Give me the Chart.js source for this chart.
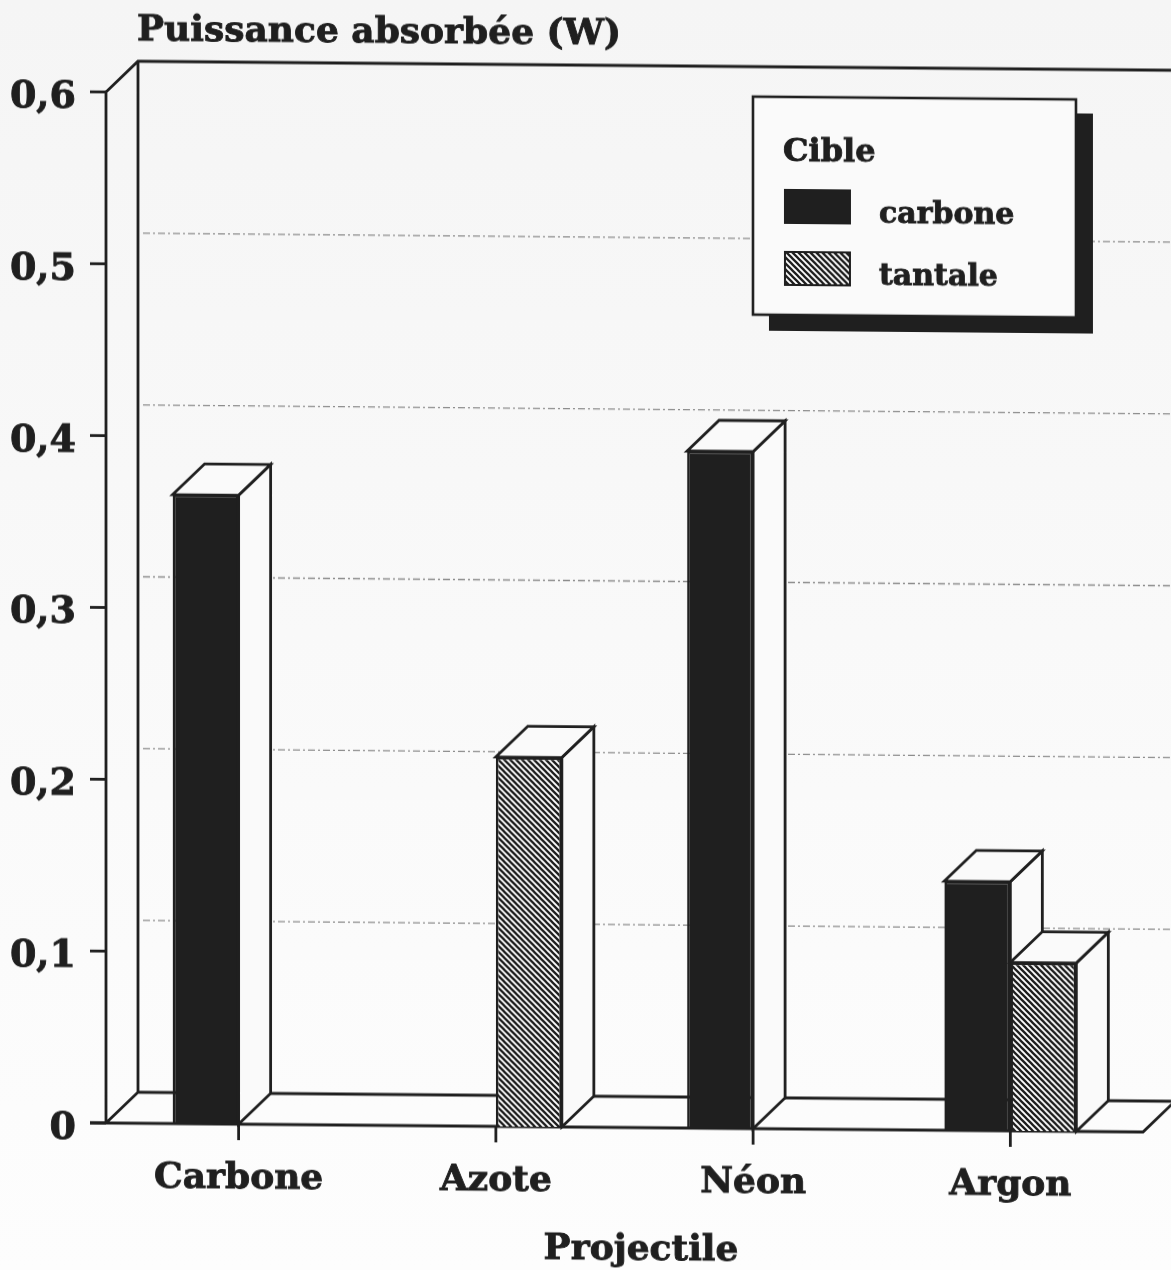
<!DOCTYPE html>
<html>
<head>
<meta charset="utf-8">
<title>Puissance absorbée</title>
<style>
    html, body { margin: 0; padding: 0; overflow: hidden; height: 100%; background: linear-gradient(#f5f5f5, #fdfdfd); }
    /* le scan original est legerement penche */
    #myChart { display: block; transform-origin: 107px 0; transform: matrix(1, 0.0087, 0, 1, 0, 0); filter: blur(0.45px); }
</style>
</head>
<body>
<canvas id="myChart" width="1171" height="1270"></canvas>
<script src="https://cdn.jsdelivr.net/npm/chart.js@4/dist/chart.umd.js"></script>
<script>
const categories = ['Carbone', 'Azote', 'Néon', 'Argon'];
const carbone = [0.366, null, 0.394, 0.145];
const tantale = [null, 0.215, null, 0.098];
const yTickLabels = ['0', '0,1', '0,2', '0,3', '0,4', '0,5', '0,6'];
const chartTitle = 'Puissance absorbée (W)';
const xTitle = 'Projectile';
const legendTitle = 'Cible';

const INK = '#1f1f1f';
const PAPER = '#fafafa';
const FONT = '"DejaVu Serif"';
const DEPTH_X = 32;
const DEPTH_Y = 31;

function hatch() {
    const tile = document.createElement('canvas');
    tile.width = 6;
    tile.height = 6;
    const c = tile.getContext('2d');
    c.fillStyle = '#fff';
    c.fillRect(0, 0, 6, 6);
    c.strokeStyle = '#1c1c1c';
    c.lineWidth = 2.3;
    c.beginPath();
    c.moveTo(-3, -3); c.lineTo(9, 9);
    c.moveTo(-3, 3); c.lineTo(3, 9);
    c.moveTo(3, -3); c.lineTo(9, 3);
    c.stroke();
    return c.createPattern(tile, 'repeat');
}
const hatchPattern = hatch();

function poly(ctx, pts, fill) {
    ctx.beginPath();
    ctx.moveTo(pts[0][0], pts[0][1]);
    for (let i = 1; i < pts.length; i++) ctx.lineTo(pts[i][0], pts[i][1]);
    ctx.closePath();
    if (fill) {
        ctx.fillStyle = fill;
        ctx.fill();
    }
    ctx.stroke();
}

// texte gras avec un leger contour, comme sur le scan
function heavyText(ctx, text, x, y) {
    ctx.fillText(text, x, y);
    ctx.strokeText(text, x, y);
}

// mur du fond, sol, graduations et faces 3D des barres
const box3d = {
    id: 'box3d',
    beforeDatasetsDraw(chart) {
        const ctx = chart.ctx;
        const x = chart.scales.x;
        const y = chart.scales.y;
        const left = 106;
        const right = 1143;
        const top = y.getPixelForValue(0.6);
        const zero = y.getPixelForValue(0);

        ctx.save();
        ctx.lineJoin = 'miter';

        // lignes du mur
        ctx.strokeStyle = '#8c8c8c';
        ctx.lineWidth = 1.4;
        ctx.setLineDash([7, 3, 2, 3]);
        y.ticks.forEach(function (t) {
            if (t.value <= 0 || t.value >= 0.6) return;
            const py = y.getPixelForValue(t.value) - DEPTH_Y;
            ctx.beginPath();
            ctx.moveTo(left + DEPTH_X + 5, py);
            ctx.lineTo(right + DEPTH_X, py);
            ctx.stroke();
        });
        ctx.setLineDash([]);

        ctx.strokeStyle = INK;
        ctx.lineWidth = 2.8;
        ctx.beginPath();
        ctx.moveTo(left, zero);
        ctx.lineTo(left, top);
        ctx.lineTo(left + DEPTH_X, top - DEPTH_Y);
        ctx.lineTo(right + DEPTH_X, top - DEPTH_Y);
        ctx.moveTo(left + DEPTH_X, top - DEPTH_Y);
        ctx.lineTo(left + DEPTH_X, zero - DEPTH_Y);
        ctx.lineTo(left, zero);
        ctx.moveTo(left + DEPTH_X, zero - DEPTH_Y);
        ctx.lineTo(right + DEPTH_X, zero - DEPTH_Y);
        ctx.lineTo(right, zero);
        ctx.lineTo(left - 16, zero);
        ctx.stroke();

        y.ticks.forEach(function (t) {
            const py = y.getPixelForValue(t.value);
            ctx.beginPath();
            ctx.moveTo(left - 16, py);
            ctx.lineTo(left, py);
            ctx.stroke();
        });
        categories.forEach(function (c, i) {
            const px = x.getPixelForTick(i);
            ctx.beginPath();
            ctx.moveTo(px, zero);
            ctx.lineTo(px, zero + 16);
            ctx.stroke();
        });

        // dessus et cote des barres, les faces avant viennent apres
        chart.data.datasets.forEach(function (ds, d) {
            chart.getDatasetMeta(d).data.forEach(function (bar, i) {
                if (ds.data[i] == null) return;
                const l = bar.x - bar.width / 2;
                const r = bar.x + bar.width / 2;
                poly(ctx, [[r, bar.y], [r + DEPTH_X, bar.y - DEPTH_Y], [r + DEPTH_X, zero - DEPTH_Y], [r, zero]], PAPER);
                poly(ctx, [[l, bar.y], [l + DEPTH_X, bar.y - DEPTH_Y], [r + DEPTH_X, bar.y - DEPTH_Y], [r, bar.y]], PAPER);
            });
        });
        ctx.restore();
    },
    afterDraw(chart) {
        const ctx = chart.ctx;
        ctx.save();
        ctx.fillStyle = INK;
        ctx.strokeStyle = INK;
        ctx.lineWidth = 0.9;
        ctx.textBaseline = 'middle';

        // titres
        ctx.font = 'bold 36px ' + FONT;
        ctx.textAlign = 'left';
        heavyText(ctx, chartTitle, 137, 31);
        ctx.textAlign = 'center';
        heavyText(ctx, xTitle, 641, 1246);

        // legende
        ctx.fillStyle = INK;
        ctx.fillRect(769, 105, 324, 220);
        ctx.lineWidth = 2.6;
        ctx.fillStyle = PAPER;
        ctx.fillRect(753, 91, 323, 218);
        ctx.strokeRect(753, 91, 323, 218);

        ctx.textAlign = 'left';
        ctx.fillStyle = INK;
        ctx.lineWidth = 0.9;
        ctx.font = 'bold 32px ' + FONT;
        heavyText(ctx, legendTitle, 783, 147);
        ctx.font = 'bold 30px ' + FONT;
        chart.data.datasets.forEach(function (ds, d) {
            const rowY = 184 + d * 62;
            ctx.fillStyle = ds.backgroundColor;
            ctx.lineWidth = 2;
            ctx.fillRect(785, rowY, 65, 33);
            ctx.strokeRect(785, rowY, 65, 33);
            ctx.fillStyle = INK;
            ctx.lineWidth = 0.9;
            heavyText(ctx, ds.label, 879, rowY + 24);
        });
        ctx.restore();
    }
};

const ctx = document.getElementById('myChart').getContext('2d');
const chart = new Chart(ctx, {
    type: 'bar',
    data: {
        labels: categories,
        datasets: [
            { label: 'carbone', data: carbone, backgroundColor: INK, borderColor: INK, borderWidth: 2.6 },
            { label: 'tantale', data: tantale, backgroundColor: hatchPattern, borderColor: INK, borderWidth: 2.6 }
        ]
    },
    options: {
        responsive: false,
        devicePixelRatio: 1,
        animation: false,
        layout: { padding: { top: 92, right: 32, left: 0, bottom: 0 } },
        datasets: { bar: { categoryPercentage: 0.513, barPercentage: 1 } },
        plugins: {
            legend: { display: false },
            title: { display: false },
            tooltip: { enabled: false }
        },
        scales: {
            x: {
                grid: { display: false },
                border: { display: false },
                afterFit(scale) { scale.height = 147; },
                ticks: {
                    color: INK,
                    padding: 25,
                    maxRotation: 0,
                    textStrokeColor: INK,
                    textStrokeWidth: 0.9,
                    font: { family: 'DejaVu Serif', weight: 'bold', size: 36 }
                }
            },
            y: {
                min: 0,
                max: 0.6,
                grid: { display: false },
                border: { display: false },
                afterFit(scale) { scale.width = 110; },
                ticks: {
                    stepSize: 0.1,
                    color: INK,
                    padding: 26,
                    labelOffset: 6,
                    textStrokeColor: INK,
                    textStrokeWidth: 0.9,
                    font: { family: 'DejaVu Serif', weight: 'bold', size: 38 },
                    callback: function (value, index) { return yTickLabels[index]; }
                }
            }
        }
    },
    plugins: [box3d]
});
</script>
</body>
</html>
